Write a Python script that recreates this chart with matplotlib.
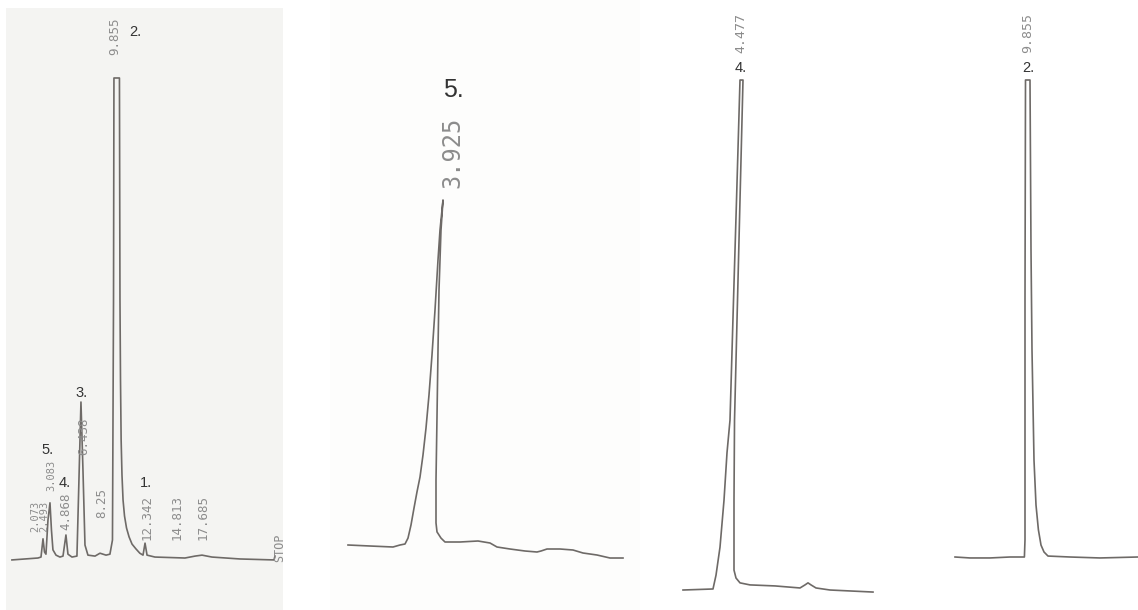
import matplotlib
matplotlib.use('Agg')
import matplotlib.pyplot as plt

# panel 1 - full sample chromatogram (time in min, signal in arbitrary units)
t1 = [-0.24, 2.22, 2.51, 2.70, 2.84, 2.98, 3.17, 3.36, 3.50, 3.64, 3.93, 4.30, 4.59,
      4.87, 5.06, 5.44, 5.91, 6.10, 6.29, 6.48, 6.67, 6.95, 7.62, 8.09, 8.66, 9.03,
      9.27, 9.37, 9.41, 9.93, 9.98, 10.03, 10.09, 10.17, 10.27, 10.41, 10.60, 10.84,
      11.12, 11.49, 11.86, 12.16, 12.35,
      12.54, 13.29, 16.13, 17.08, 17.74, 18.68, 21.33, 24.55, 24.64]
s1 = [-0.4, 0.0, 0.2, 4.0, 1.25, 0.8, 7.9, 11.5, 5.8, 1.7, 0.6, 0.2, 0.4,
      4.8, 0.8, 0.2, 0.4, 16.3, 32.5, 18.3, 2.7, 0.6, 0.4, 1.0, 0.6, 0.8,
      3.75, 53.8, 100, 100, 53.8, 37.1, 24.6, 17.3, 12.1, 8.75, 6.25, 4.4,
      2.9, 1.9, 1.0, 0.6, 3.1,
      0.6, 0.2, 0.0, 0.4, 0.6, 0.2, -0.2, -0.4, 0.4]
rt_labels1 = ['2.073', '2.493', '3.083', '4.868', '6.438', '8.25', '9.855', '12.342', '14.813', '17.685']
peak_no1 = ['5.', '4.', '3.', '2.', '1.']

# panel 2 - peak 5
t2 = [1.575, 2.125, 2.70, 2.875, 3.00, 3.075, 3.15, 3.225, 3.30, 3.375, 3.45, 3.525,
      3.60, 3.675, 3.75, 3.825, 3.875, 3.95, 3.90, 3.85, 3.825,
      3.80, 3.775, 3.775, 3.80, 3.90, 4.00, 4.375, 4.825, 5.125, 5.30, 5.625,
      6.00, 6.30, 6.40, 6.55, 6.875, 7.20, 7.45, 7.80, 8.125, 8.45]
s2 = [0, -0.29, -0.58, 0, 0.29, 2.0, 5.8, 10.7, 15.4, 19.7, 26.1, 33.9,
      43.5, 55.1, 68.1, 82.6, 91.3, 100, 91.3, 73.9, 56.5,
      37.1, 18.8, 6.4, 3.8, 2.0, 0.87, 0.87, 1.16, 0.58, -0.58, -1.16,
      -1.74, -2.03, -1.74, -1.16, -1.16, -1.45, -2.32, -2.90, -3.77, -3.77]

# panel 3 - peak 4
t3 = [3.027, 3.777, 3.852, 3.952, 4.052, 4.127, 4.202, 4.29, 4.365, 4.452, 4.527,
      4.452, 4.39, 4.315, 4.302, 4.302, 4.352, 4.452, 4.702, 5.327, 5.952, 6.077,
      6.152, 6.227, 6.352, 6.702, 7.777]
s3 = [0, 0.2, 2.9, 8.4, 17.6, 26.9, 33.3, 56.9, 76.5, 100, 100,
      76.5, 56.9, 33.3, 17.6, 3.9, 2.35, 1.4, 1.0, 0.8, 0.4, 1.0,
      1.4, 1.0, 0.4, 0.0, -0.4]

# panel 4 - peak 2
t4 = [8.055, 8.43, 8.93, 9.43, 9.79, 9.805, 9.805, 9.8175, 9.93, 9.955, 9.98, 10.03,
      10.08, 10.14, 10.205, 10.28, 10.38, 10.93, 11.68, 12.63]
s4 = [0, -0.2, -0.2, 0, 0, 3.6, 53.9, 100, 100, 64.4, 43.4, 20.3,
      10.9, 5.7, 2.5, 1.05, 0.2, 0, -0.2, 0]

line_c = '#6e6a67'
rt_c = '#8c8c8c'
no_c = '#333333'
mono = 'DejaVu Sans Mono'
sans = 'Liberation Sans'

fig = plt.figure(figsize=(11.38, 6.10), dpi=100)
W, H = 1138, 610

def panel(x0, y0, x1, y1, xlim, ylim, bg):
    ax = fig.add_axes([x0 / W, 1 - y1 / H, (x1 - x0) / W, (y1 - y0) / H])
    ax.set_xlim(*xlim)
    ax.set_ylim(*ylim)
    ax.set_facecolor(bg)
    ax.set_xticks([])
    ax.set_yticks([])
    for sp in ax.spines.values():
        sp.set_visible(False)
    return ax

def rt(ax, x, y, s, size):
    ax.text(x, y, s, rotation=90, ha='center', va='bottom', fontsize=size,
            family=mono, color=rt_c)

def no(ax, x, y, s, size):
    ax.text(x, y, s, ha='center', va='center', fontsize=size, family=sans, color=no_c)

# panel 1
ax1 = panel(6, 8, 283, 610, (-0.80, 25.40), (-10.83, 114.58), '#f4f4f2')
ax1.plot(t1, s1, color=line_c, lw=1.2)
rt_pos1 = [(1.95, 5.4), (2.85, 5.4), (3.45, 14.0), (4.87, 5.8), (6.58, 21.5),
           (8.28, 8.3), (9.51, 104.8), (12.54, 3.75), (15.37, 3.75), (17.83, 3.75)]
for i, (lab, (x, y)) in enumerate(zip(rt_labels1, rt_pos1)):
    rt(ax1, x, y, lab, 7.5 if i < 3 else 9)
no_pos1 = [(3.17, 22.5), (4.78, 15.6), (6.39, 34.4), (11.40, 109.6), (12.44, 15.6)]
for lab, (x, y) in zip(peak_no1, no_pos1):
    no(ax1, x, y, lab, 10.5)
rt(ax1, 25.12, -0.8, 'STOP', 8.5)

# panel 2
ax2 = panel(330, 0, 640, 610, (1.125, 8.875), (-18.84, 157.97), '#fdfdfc')
ax2.plot(t2, s2, color=line_c, lw=1.2)
rt(ax2, 4.175, 103.5, '3.925', 17)
no(ax2, 4.20, 131.9, '5.', 18)

# panel 3
ax3 = panel(680, 0, 890, 610, (2.952, 8.202), (-3.92, 115.69), 'white')
ax3.plot(t3, s3, color=line_c, lw=1.2)
rt(ax3, 4.477, 105.3, '4.477', 9.5)
no(ax3, 4.477, 102.4, '4.', 10.5)

# panel 4
ax4 = panel(940, 0, 1138, 610, (7.68, 12.63), (-11.11, 116.77), 'white')
ax4.plot(t4, s4, color=line_c, lw=1.2)
rt(ax4, 9.88, 105.7, '9.855', 9.5)
no(ax4, 9.88, 102.5, '2.', 10.5)

fig.savefig('out.png', dpi=100)
